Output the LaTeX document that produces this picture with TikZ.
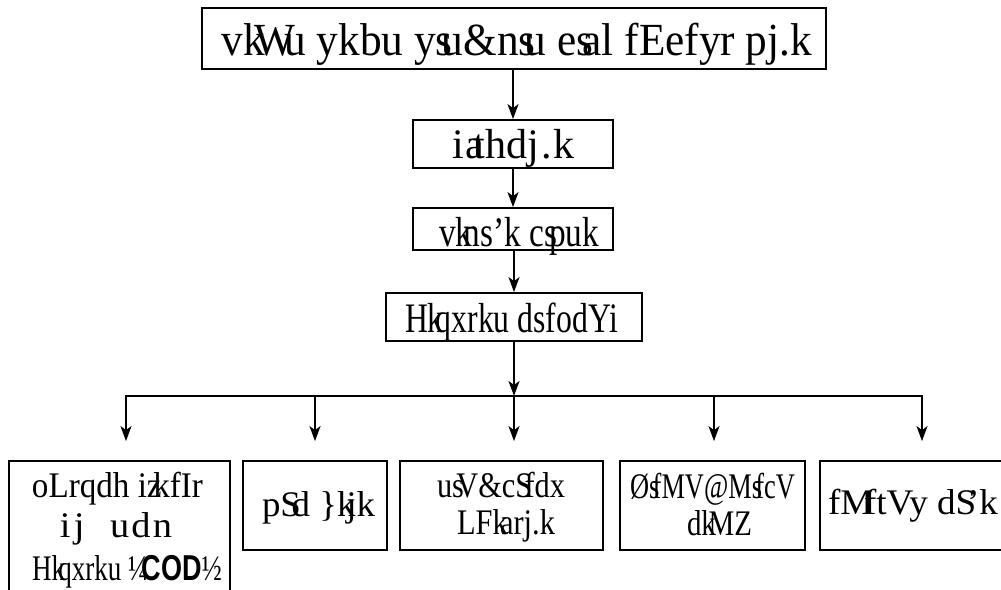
\documentclass[tikz,border=0pt]{standalone}
\usepackage{fontspec}
\setmainfont{Liberation Serif}
\newfontfamily\codfont{Liberation Sans}
\usetikzlibrary{arrows.meta}
\newcommand\ol{\kern-.25em}
\newcommand\ap{{\char39}}
\newcommand\fitw[2]{\resizebox{#1}{\height}{#2}}
\begin{document}
\begin{tikzpicture}[x=1pt,y=-1pt,
  box/.style={draw, line width=1.8pt, inner sep=0pt},
  txt/.style={anchor=base, inner sep=0pt, font=\fontsize{42}{46}\selectfont},
  stxt/.style={anchor=base, inner sep=0pt, font=\fontsize{36}{40}\selectfont},
  arr/.style={line width=1.8pt, -{Stealth[length=15pt,width=11pt,inset=4pt]}}]
\useasboundingbox (0,0) rectangle (1001,589);
\clip (0,0) rectangle (1001,589);
% main column
\node[box, minimum width=624pt, minimum height=61pt] (t) at (514,38.5) {};
\node[txt, font=\fontsize{46}{50}\selectfont] (tt) at (517,55) {\fitw{590pt}{vk\ol W\ol u ykbu ys\ol u\&ns\ol u es\ol al fEefyr pj.k}};
\node[box, minimum width=200pt, minimum height=48pt] (b2) at (513,144) {};
\node[txt] (b2t) at (513.5,158) {\fitw{123pt}{i\hspace{2pt}a\ol thdj\hspace{2pt}.\hspace{2pt}k}};
\node[box, minimum width=200pt, minimum height=42pt] (b3) at (513,229) {};
\node[txt] (b3t) at (519,246) {\fitw{160pt}{vk\ol ns\ap k cs\ol puk}};
\node[box, minimum width=256pt, minimum height=48pt] (b4) at (514,317) {};
\node[txt] (b4t) at (511.5,332) {\fitw{213pt}{Hk\ol qxrku dsfodYi}};
% bottom row
\node[box, minimum width=221pt, minimum height=180pt] (k1) at (119.5,551) {};
\node[stxt] (k1a) at (117.5,497) {\fitw{171pt}{oLrqdh iz\ol kfIr}};
\node[stxt] (k1b) at (116,537) {\fitw{112pt}{i\hspace{3pt}j\hspace{24pt}u\hspace{2pt}d\hspace{2pt}n}};
\node[stxt] (k1c) at (127,580) {\fitw{190pt}{Hk\ol qxrku ¼\ol{\codfont\bfseries COD}½}};
\node[box, minimum width=144pt, minimum height=89pt] (k2) at (315,505.5) {};
\node[stxt] (k2t) at (318.5,516) {\fitw{113pt}{pS\ol d \}k\ol jk}};
\node[box, minimum width=203pt, minimum height=89pt] (k3) at (501.5,505.5) {};
\node[stxt] (k3a) at (501,497) {\fitw{128pt}{us\ol V\&cS\ol fdx}};
\node[stxt] (k3b) at (506,534) {\fitw{98pt}{LFk\ol arj.k}};
\node[box, minimum width=185pt, minimum height=89pt] (k4) at (712.5,505.5) {};
\node[stxt] (k4a) at (712.5,498) {\fitw{165pt}{Øs\ol fMV@Ms\ol fcV}};
\node[stxt] (k4b) at (719.5,535) {\fitw{65pt}{dk\ol MZ}};
\node[box, minimum width=204pt, minimum height=89pt] (k5) at (922,505.5) {};
\node[stxt] (k5t) at (913,514) {\fitw{170pt}{fM\ol ftVy dS\ol\ap k}};
% connectors
\draw[arr] (b2.north |- t.south) -- (b2.north);
\draw[arr] (b3.north |- b2.south) -- (b3.north);
\draw[arr] (b4.north |- b3.south) -- (b4.north);
\coordinate (bar) at (514,396);
\coordinate (bl) at (126,396);
\coordinate (bx2) at (315,396);
\coordinate (bx3) at (514,396);
\coordinate (bx4) at (714,396);
\coordinate (br) at (922,396);
\draw[arr] (b4.south) -- (bar);
\draw[arr, shorten >=19pt] (bar) -| (bl |- k1.north);
\draw[arr, shorten >=19pt] (bar) -| (br |- k5.north);
\draw[arr, shorten >=19pt] (bx2) -- (bx2 |- k2.north);
\draw[arr, shorten >=19pt] (bx3) -- (bx3 |- k3.north);
\draw[arr, shorten >=19pt] (bx4) -- (bx4 |- k4.north);
\end{tikzpicture}
\end{document}
